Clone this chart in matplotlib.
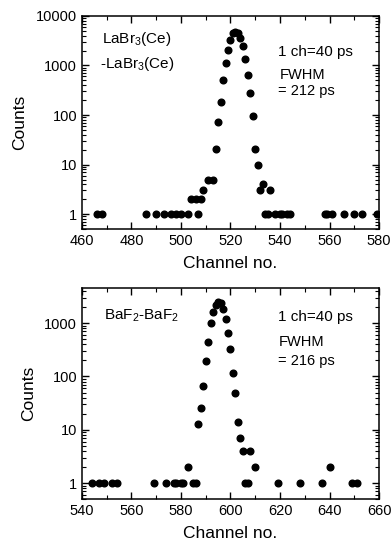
import matplotlib
matplotlib.use("Agg")
import matplotlib.pyplot as plt
import matplotlib.ticker as mtick

plt.rcParams['font.family'] = ['Liberation Sans', 'DejaVu Sans']
plt.rcParams['mathtext.fontset'] = 'custom'
plt.rcParams['mathtext.rm'] = 'Liberation Sans'

# LaBr3(Ce)-LaBr3(Ce) timing spectrum
labr_channel = [466, 468, 486, 490, 493, 496, 498, 500, 503, 504, 506, 507, 508, 509,
                511, 513, 514, 515, 516, 517, 518, 519, 520, 521, 522, 523, 524, 525,
                526, 527, 528, 529, 530, 531, 532, 533, 534, 535, 536, 538, 540, 541,
                543, 544, 558, 559, 561, 566, 570, 573, 579]
labr_counts = [1, 1, 1, 1, 1, 1, 1, 1, 1, 2, 2, 1, 2, 3,
               5, 5, 21, 72, 185, 500, 1140, 2030, 3220, 4450, 4760, 4450, 3530, 2430,
               1360, 635, 280, 95, 21, 10, 3, 4, 1, 1, 3, 1, 1, 1,
               1, 1, 1, 1, 1, 1, 1, 1, 1]

# BaF2-BaF2 timing spectrum
baf_channel = [544, 547, 549, 552, 554, 569, 574, 577, 578, 580, 581, 583, 585, 586,
               587, 588, 589, 590, 591, 592, 593, 594, 595, 596, 597, 598, 599, 600,
               601, 602, 603, 604, 605, 606, 607, 608, 610, 619, 628, 637, 640, 649, 651]
baf_counts = [1, 1, 1, 1, 1, 1, 1, 1, 1, 1, 1, 2, 1, 1,
              13, 26, 66, 192, 442, 1000, 1620, 2150, 2500, 2430, 1830, 1170, 650, 327,
              114, 50, 14, 7, 4, 1, 1, 4, 2, 1, 1, 1, 2, 1, 1]


def style_axis(ax, xlim, ylim):
    ax.set_yscale('log')
    ax.set_xlim(xlim)
    ax.set_ylim(ylim)
    ax.xaxis.set_major_locator(mtick.MultipleLocator(20))
    ax.xaxis.set_minor_locator(mtick.MultipleLocator(10))
    ax.yaxis.set_major_locator(mtick.LogLocator(base=10))
    ax.yaxis.set_minor_locator(mtick.LogLocator(base=10, subs=range(2, 10)))
    ax.yaxis.set_major_formatter(mtick.FuncFormatter(lambda v, p: f"{v:g}" if v < 1e5 else ""))
    ax.yaxis.set_minor_formatter(mtick.NullFormatter())
    ax.tick_params(which='both', direction='in', top=True, right=True, labelsize=10.5)
    ax.tick_params(which='major', length=5, width=1)
    ax.tick_params(which='minor', length=3, width=0.8)
    for s in ax.spines.values():
        s.set_linewidth(1.1)
    ax.set_xlabel('Channel no.', fontsize=12.5, labelpad=6)
    ax.set_ylabel('Counts', fontsize=12.5, labelpad=6)


fig = plt.figure(figsize=(3.92, 5.48), dpi=100)

ax1 = fig.add_axes([0.209, 0.582, 0.758, 0.389])
ax1.plot(labr_channel, labr_counts, 'o', color='black', markersize=4.8)
style_axis(ax1, (460, 580), (0.5, 10000))
ax1.text(0.067, 0.892, r'LaBr$_\mathregular{3}$(Ce)', transform=ax1.transAxes, fontsize=11, va='center')
ax1.text(0.061, 0.775, r'-LaBr$_\mathregular{3}$(Ce)', transform=ax1.transAxes, fontsize=11, va='center')
ax1.text(0.66, 0.832, '1 ch=40 ps', transform=ax1.transAxes, fontsize=11, va='center')
ax1.text(0.667, 0.724, 'FWHM', transform=ax1.transAxes, fontsize=10.5, va='center')
ax1.text(0.66, 0.650, '= 212 ps', transform=ax1.transAxes, fontsize=10.5, va='center')

ax2 = fig.add_axes([0.209, 0.089, 0.758, 0.385])
ax2.plot(baf_channel, baf_counts, 'o', color='black', markersize=4.8)
style_axis(ax2, (540, 660), (0.5, 4500))
ax2.text(0.074, 0.872, r'BaF$_\mathregular{2}$-BaF$_\mathregular{2}$', transform=ax2.transAxes, fontsize=11, va='center')
ax2.text(0.66, 0.864, '1 ch=40 ps', transform=ax2.transAxes, fontsize=11, va='center')
ax2.text(0.664, 0.743, 'FWHM', transform=ax2.transAxes, fontsize=10.5, va='center')
ax2.text(0.66, 0.657, '= 216 ps', transform=ax2.transAxes, fontsize=10.5, va='center')

fig.savefig('out.png', dpi=100)
